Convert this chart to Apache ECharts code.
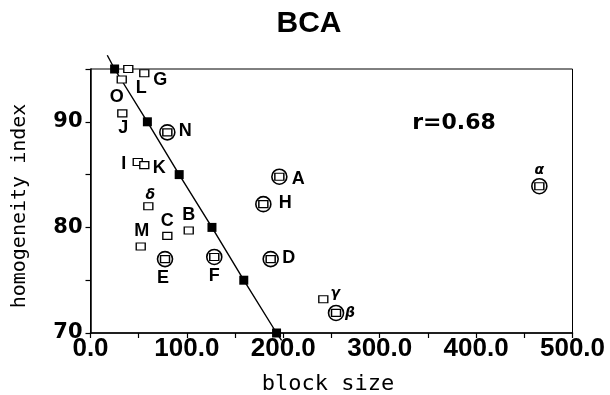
<!DOCTYPE html>
<html><head><meta charset="utf-8">
<script src="https://cdn.jsdelivr.net/npm/echarts@6/dist/echarts.min.js"></script>
<style>html,body{margin:0;padding:0;background:#fff}#c{width:610px;height:395px}</style>
</head><body><div id="c"></div>
<script>
// ---- data ----
const titleText = 'BCA';
const xTitle = 'block size';
const yTitle = 'homogeneity index';
const rText = 'r=0.68';

// open squares
const openNames = ['L', 'G', 'O', 'J', 'I', 'K', 'δ', 'B', 'C', 'M', 'γ'];
const openX = [39.2, 55.8, 32.4, 33.0, 49.0, 55.8, 60.0, 101.9, 79.7, 52.1, 241.5];
const openY = [95.0, 94.6, 94.0, 90.8, 86.2, 85.9, 82.0, 79.7, 79.2, 78.2, 73.2];

// circled squares
const circNames = ['N', 'E', 'F', 'H', 'A', 'D', 'β', 'α'];
const circX = [79.7, 77.3, 128.4, 179.3, 195.9, 186.9, 254.7, 465.6];
const circY = [89.0, 77.0, 77.2, 82.2, 84.8, 77.0, 71.9, 83.9];

// regression line markers (filled squares)
const fitX = [25, 59, 92, 126, 159, 193];
const fitY = [95, 90, 85, 80, 75, 70];
// regression line as drawn (runs slightly past the frame)
const lineX = [17.4, 25, 59, 92, 126, 159, 193, 198.3];
const lineY = [96.3, 95, 90, 85, 80, 75, 70, 69.3];

// ---- styles ----
const labelOffset = {
  L: [13, 19], G: [16, 7], O: [-5, 17], J: [1, 15], I: [-14, 2], K: [15, 3],
  'δ': [2, -11], B: [0, -16], C: [0, -15], M: [1, -15], 'γ': [12, -6],
  N: [18, -1], E: [-2, 19], F: [0, 19], H: [22, -1], A: [19, 2], D: [18, -1],
  'β': [14, 0], 'α': [0, -16]
};
const greek = ['α', 'β', 'γ', 'δ'];

function pts(xs, ys) { return xs.map((x, i) => [x, ys[i]]); }
function labelled(names, xs, ys) {
  return names.map((n, i) => {
    const g = greek.indexOf(n) >= 0;
    return {
      name: n, value: [xs[i], ys[i]],
      label: {
        show: true, position: 'inside', offset: labelOffset[n], formatter: '{b}',
        color: '#000', opacity: 1, fontFamily: g ? 'DejaVu Sans' : 'Liberation Sans',
        fontWeight: 'bold', fontStyle: g ? 'italic' : 'normal', fontSize: g ? 14 : 18
      }
    };
  });
}

const chart = echarts.init(document.getElementById('c'), null, { renderer: 'canvas' });
chart.setOption({
  animation: false,
  backgroundColor: '#fff',
  grid: { left: 90.5, right: 37.5, top: 69, bottom: 62, show: true, borderColor: '#000', borderWidth: 1 },
  xAxis: {
    type: 'value', min: 0, max: 500, interval: 50,
    axisLine: { show: true, lineStyle: { color: '#000', width: 1.5 } },
    axisTick: { show: true, length: 5, lineStyle: { color: '#000', width: 1.2 } },
    axisLabel: {
      formatter: v => (v % 100 === 0 ? v.toFixed(1) : ''), color: '#000',
      fontFamily: 'Liberation Sans', fontWeight: 'bold', fontSize: 26, margin: 3
    },
    splitLine: { show: false }
  },
  yAxis: {
    type: 'value', min: 70, max: 95, interval: 5,
    axisLine: { show: true, lineStyle: { color: '#000', width: 1.5 } },
    axisTick: { show: true, length: 5, lineStyle: { color: '#000', width: 1.2 } },
    axisLabel: {
      formatter: v => (v % 10 === 0 ? String(v) : ''), color: '#000',
      fontFamily: 'DejaVu Sans', fontWeight: 'bold', fontSize: 21, margin: 8
    },
    splitLine: { show: false }
  },
  graphic: [
    { type: 'text', x: 309, y: 24, style: { text: titleText, fill: '#000', font: 'bold 30px "Liberation Sans"', align: 'center', verticalAlign: 'middle' } },
    { type: 'text', x: 454, y: 123, style: { text: rText, fill: '#000', font: 'bold 22px "DejaVu Sans"', align: 'center', verticalAlign: 'middle' } },
    { type: 'text', x: 328, y: 384, style: { text: xTitle, fill: '#000', font: '22px "DejaVu Sans Mono"', align: 'center', verticalAlign: 'middle' } },
    { type: 'text', x: 20, y: 206, rotation: Math.PI / 2, style: { text: yTitle, fill: '#000', font: '20px "DejaVu Sans Mono"', align: 'center', verticalAlign: 'middle' } }
  ],
  series: [
    { type: 'line', data: pts(lineX, lineY), symbol: 'none', clip: false, z: 2,
      lineStyle: { color: '#000', width: 1.4 } },
    { type: 'scatter', data: pts(fitX, fitY), symbol: 'rect', symbolSize: 9, z: 3,
      itemStyle: { color: '#000', opacity: 1 } },
    { type: 'scatter', data: pts(circX, circY), symbol: 'circle', symbolSize: 15, z: 4,
      itemStyle: { color: '#fff', borderColor: '#000', borderWidth: 1.6, opacity: 1 } },
    { type: 'scatter', data: labelled(circNames, circX, circY), symbol: 'rect', symbolSize: [9, 7], z: 5,
      itemStyle: { color: '#fff', borderColor: '#000', borderWidth: 1.3, opacity: 1 } },
    { type: 'scatter', data: labelled(openNames, openX, openY), symbol: 'rect', symbolSize: [9, 7], z: 5,
      itemStyle: { color: '#fff', borderColor: '#000', borderWidth: 1.2, opacity: 1 } }
  ]
});
</script></body></html>
